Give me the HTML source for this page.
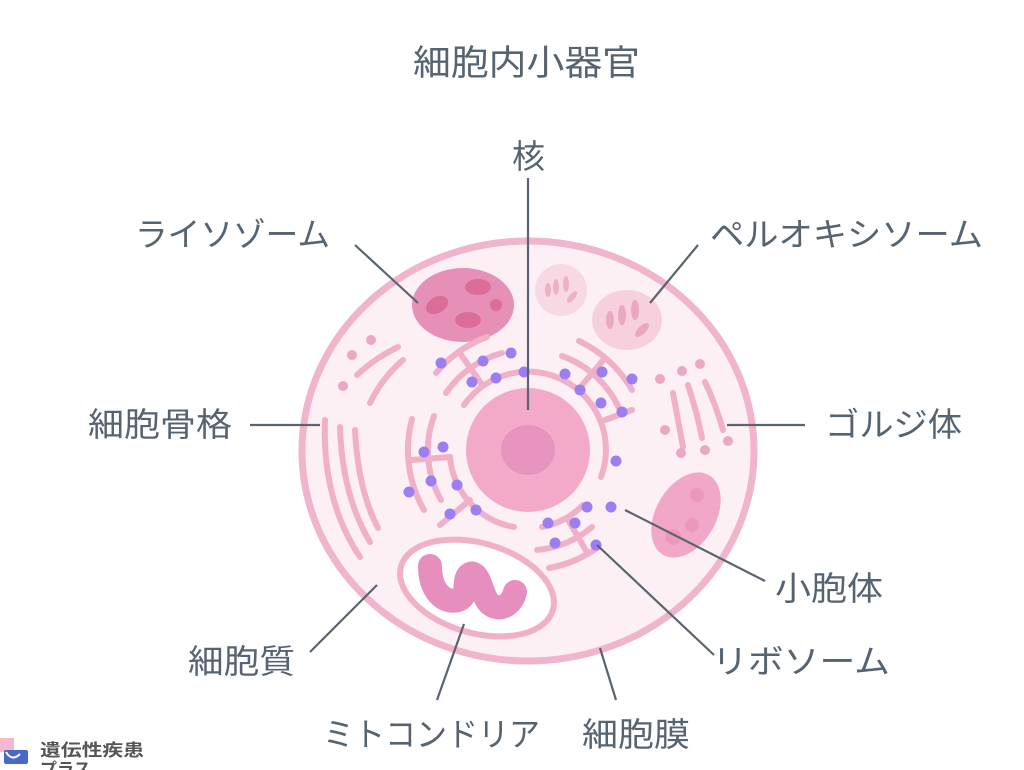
<!DOCTYPE html>
<html><head><meta charset="utf-8"><style>
html,body{margin:0;padding:0;background:#fff;}
svg{display:block;}
text{font-family:"Liberation Sans","Noto Sans CJK JP",sans-serif;fill:#566370;}
</style></head><body>
<svg width="1024" height="770" viewBox="0 0 1024 770" xmlns="http://www.w3.org/2000/svg">
<rect width="1024" height="770" fill="#fff"/>
<ellipse cx="528" cy="451" rx="226" ry="210" fill="#fcf0f4" stroke="#f0b4cc" stroke-width="7"/>
<ellipse cx="463" cy="305" rx="51" ry="37" fill="#e690b8"/>
<ellipse cx="478" cy="287" rx="13" ry="8" fill="#dc6d96"/>
<ellipse cx="437" cy="305" rx="12" ry="8" fill="#dc6d96" transform="rotate(-30 437 305)"/>
<ellipse cx="468" cy="320" rx="13" ry="8" fill="#dc6d96"/>
<circle cx="496" cy="305" r="6" fill="#dc6d96"/>
<circle cx="561" cy="290" r="26" fill="#f7d9e3"/>
<g fill="#eeb0c8">
<ellipse cx="548" cy="290" rx="3" ry="7"/><ellipse cx="556" cy="287" rx="3" ry="8"/><ellipse cx="566" cy="284" rx="3" ry="8"/><ellipse cx="572" cy="297" rx="3" ry="7" transform="rotate(40 572 297)"/>
</g>
<ellipse cx="627" cy="320" rx="35" ry="30" fill="#f6d0dd"/>
<g fill="#eba6c2">
<ellipse cx="610" cy="320" rx="4" ry="9"/><ellipse cx="622" cy="315" rx="4" ry="10"/><ellipse cx="635" cy="310" rx="4" ry="10"/><ellipse cx="642" cy="330" rx="4" ry="9" transform="rotate(45 642 330)"/>
</g>
<ellipse cx="686" cy="515" rx="30" ry="46" fill="#f1a8c8" transform="rotate(30 686 515)"/>
<circle cx="697" cy="495" r="7" fill="#ec98bd"/><circle cx="692" cy="525" r="7" fill="#ec98bd"/><circle cx="673" cy="537" r="8" fill="#ec98bd"/>
<circle cx="528" cy="450" r="62" fill="#f3a9c8"/>
<ellipse cx="528" cy="450" rx="27" ry="25" fill="#e693bf"/>
<g fill="none" stroke="#f0b0c8" stroke-width="6" stroke-linecap="round">
<path d="M464 405 A78 78 0 0 1 601 477"/>
<path d="M514 527 A78 78 0 0 1 450 457"/>
<path d="M583 505 A78 78 0 0 1 542 527"/>
<path d="M446 393 A100 100 0 0 1 502 353"/>
<path d="M562 356 A100 100 0 0 1 619 408"/>
<path d="M441 500 A100 100 0 0 1 434 416"/>
<path d="M592 527 A100 100 0 0 1 537 550"/>
<path d="M436 373 A120 120 0 0 1 487 337"/>
<path d="M579 341 A120 120 0 0 1 632 390"/>
<path d="M424 510 A120 120 0 0 1 412 419"/>
<path d="M597 548 A120 120 0 0 1 549 568"/>
<path d="M483 386 L459 352"/><path d="M578 390 L605 358"/><path d="M450 457 L412 460"/><path d="M567 518 L588 554"/>
<path d="M605 420 L632 410"/><path d="M470 500 L440 525"/>
<path d="M325 420 Q322 500 360 557"/>
<path d="M340 427 Q342 495 370 542"/>
<path d="M355 430 Q358 490 378 528"/>
<path d="M357 375 Q375 358 398 347"/>
<path d="M370 403 Q382 378 403 360"/>
<path d="M673 393 Q678 420 683 447"/>
<path d="M688 385 Q697 412 702 438"/>
<path d="M705 382 Q716 405 723 430"/>
<ellipse cx="477" cy="588" rx="79" ry="45" transform="rotate(16 477 588)" fill="#fff"/>
</g>
<g fill="#eba7c4">
<circle cx="352" cy="355" r="5"/><circle cx="371" cy="340" r="5"/><circle cx="343" cy="386" r="5"/>
<circle cx="660" cy="379" r="5"/><circle cx="682" cy="371" r="5"/><circle cx="700" cy="364" r="5"/><circle cx="665" cy="430" r="5"/><circle cx="681" cy="453" r="5"/><circle cx="705" cy="450" r="5"/><circle cx="728" cy="441" r="5"/>
</g>
<path d="M430 566 C430 592 445 604 458 600 C470 596 462 578 470 574 C480 570 482 598 490 604 C500 612 512 605 515 592" fill="none" stroke="#e68fbe" stroke-width="24" stroke-linecap="round" stroke-linejoin="round"/>
<g fill="#9b7ef2">
<circle cx="441" cy="363" r="5.5"/><circle cx="483" cy="361" r="5.5"/><circle cx="511" cy="353" r="5.5"/><circle cx="524" cy="372" r="5.5"/><circle cx="472" cy="382" r="5.5"/><circle cx="496" cy="378" r="5.5"/>
<circle cx="565" cy="374" r="5.5"/><circle cx="602" cy="372" r="5.5"/><circle cx="632" cy="379" r="5.5"/><circle cx="580" cy="390" r="5.5"/><circle cx="601" cy="403" r="5.5"/><circle cx="622" cy="412" r="5.5"/><circle cx="616" cy="461" r="5.5"/>
<circle cx="424" cy="452" r="5.5"/><circle cx="443" cy="447" r="5.5"/><circle cx="409" cy="492" r="5.5"/><circle cx="431" cy="481" r="5.5"/><circle cx="457" cy="485" r="5.5"/><circle cx="450" cy="514" r="5.5"/><circle cx="476" cy="510" r="5.5"/>
<circle cx="548" cy="523" r="5.5"/><circle cx="575" cy="523" r="5.5"/><circle cx="587" cy="507" r="5.5"/><circle cx="611" cy="507" r="5.5"/><circle cx="555" cy="543" r="5.5"/><circle cx="596" cy="545" r="5.5"/>
</g>
<g stroke="#5a6470" stroke-width="2.2" fill="none">
<path d="M528 178 L528 410"/>
<path d="M355 245 L418 303"/>
<path d="M698 245 L650 303"/>
<path d="M250 425 L320 425"/>
<path d="M727 425 L805 425"/>
<path d="M625 510 L765 581"/>
<path d="M597 545 L714 655"/>
<path d="M310 652 L377 585"/>
<path d="M437 700 L464 624"/>
<path d="M600 648 L616 700"/>
</g>
<g font-size="33">
<text x="413" y="75" font-size="35" textLength="227" lengthAdjust="spacingAndGlyphs">細胞内小器官</text>
<text x="512" y="168" textLength="33" lengthAdjust="spacingAndGlyphs">核</text>
<text x="135" y="246" textLength="195" lengthAdjust="spacingAndGlyphs">ライソゾーム</text>
<text x="710" y="246" textLength="273" lengthAdjust="spacingAndGlyphs">ペルオキシソーム</text>
<text x="88" y="436" textLength="144" lengthAdjust="spacingAndGlyphs">細胞骨格</text>
<text x="825" y="436" textLength="137" lengthAdjust="spacingAndGlyphs">ゴルジ体</text>
<text x="775" y="600" textLength="108" lengthAdjust="spacingAndGlyphs">小胞体</text>
<text x="712" y="673" textLength="178" lengthAdjust="spacingAndGlyphs">リボソーム</text>
<text x="188" y="673" textLength="107" lengthAdjust="spacingAndGlyphs">細胞質</text>
<text x="323" y="746" textLength="217" lengthAdjust="spacingAndGlyphs">ミトコンドリア</text>
<text x="582" y="746" textLength="108" lengthAdjust="spacingAndGlyphs">細胞膜</text>
</g>
<rect x="0" y="738" width="14" height="14" fill="#f5b8cf"/>
<rect x="4" y="750" width="24" height="14" rx="2" fill="#4a68c8"/>
<path d="M6 752 Q12 762 20 754" stroke="#fff" stroke-width="2" fill="none"/>
<text x="40" y="756" font-size="17" font-weight="bold" style="fill:#555" textLength="104" lengthAdjust="spacingAndGlyphs">遺伝性疾患</text>
<text x="40" y="775" font-size="17" font-weight="bold" style="fill:#555">プラス</text>
</svg>
</body></html>
